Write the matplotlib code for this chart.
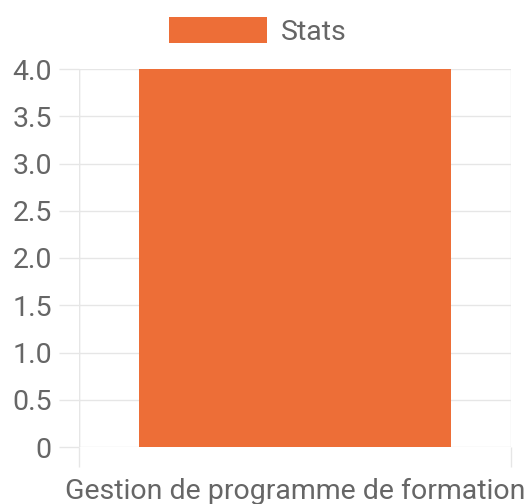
import matplotlib
matplotlib.use("Agg")
import matplotlib.pyplot as plt

plt.rcParams["font.family"] = ["Roboto", "DejaVu Sans"]

# 数据
categories = ["Gestion de programme de formation"]
values = [4]
series_name = "Stats"
y_ticks = [0, 0.5, 1.0, 1.5, 2.0, 2.5, 3.0, 3.5, 4.0]
y_tick_labels = ["0", "0.5", "1.0", "1.5", "2.0", "2.5", "3.0", "3.5", "4.0"]

bar_color = "#ED6E37"
grid_color = "#E6E6E6"
text_color = "#666666"
fs = 20.5

fig = plt.figure(figsize=(5.29, 5.04), dpi=100)
ax = fig.add_axes([79 / 529, 1 - 447 / 504, 432 / 529, 378 / 504])

x = range(len(categories))
ax.bar(x, values, width=0.72, color=bar_color, label=series_name, zorder=3)

ax.set_xlim(-0.5, len(categories) - 0.5)
ax.set_ylim(0, 4)
ax.set_yticks(y_ticks)
ax.set_yticklabels(y_tick_labels)
ax.set_xticks([-0.5, 0.5], minor=False)
ax.set_xticklabels(["", ""])
ax.set_xticks(list(x), minor=True)
ax.set_xticklabels(categories, minor=True)

# 网格线
ax.grid(axis="y", color=grid_color, linewidth=1, zorder=0)
ax.grid(axis="x", which="major", color=grid_color, linewidth=1, zorder=0)
for s in ax.spines.values():
    s.set_visible(False)
ax.axvline(-0.5, color=grid_color, lw=1, zorder=1)

ax.tick_params(axis="y", length=14.5, width=1, color=grid_color, labelsize=fs,
               labelcolor=text_color, pad=5)
ax.tick_params(axis="x", which="major", length=14.5, width=1, color=grid_color)
ax.tick_params(axis="x", which="minor", length=0, labelsize=fs,
               labelcolor=text_color, pad=22)
for lbl in ax.get_xticklabels(minor=True):
    lbl.set_x(-0.01)

# 图例
fig.legend(loc="upper center", bbox_to_anchor=(0.487, 1.0), ncol=1, frameon=False,
           fontsize=fs, labelcolor=text_color, handlelength=3.45,
           handleheight=1.05, handletextpad=0.5, borderaxespad=0.2)

plt.savefig("out.png", dpi=100)
